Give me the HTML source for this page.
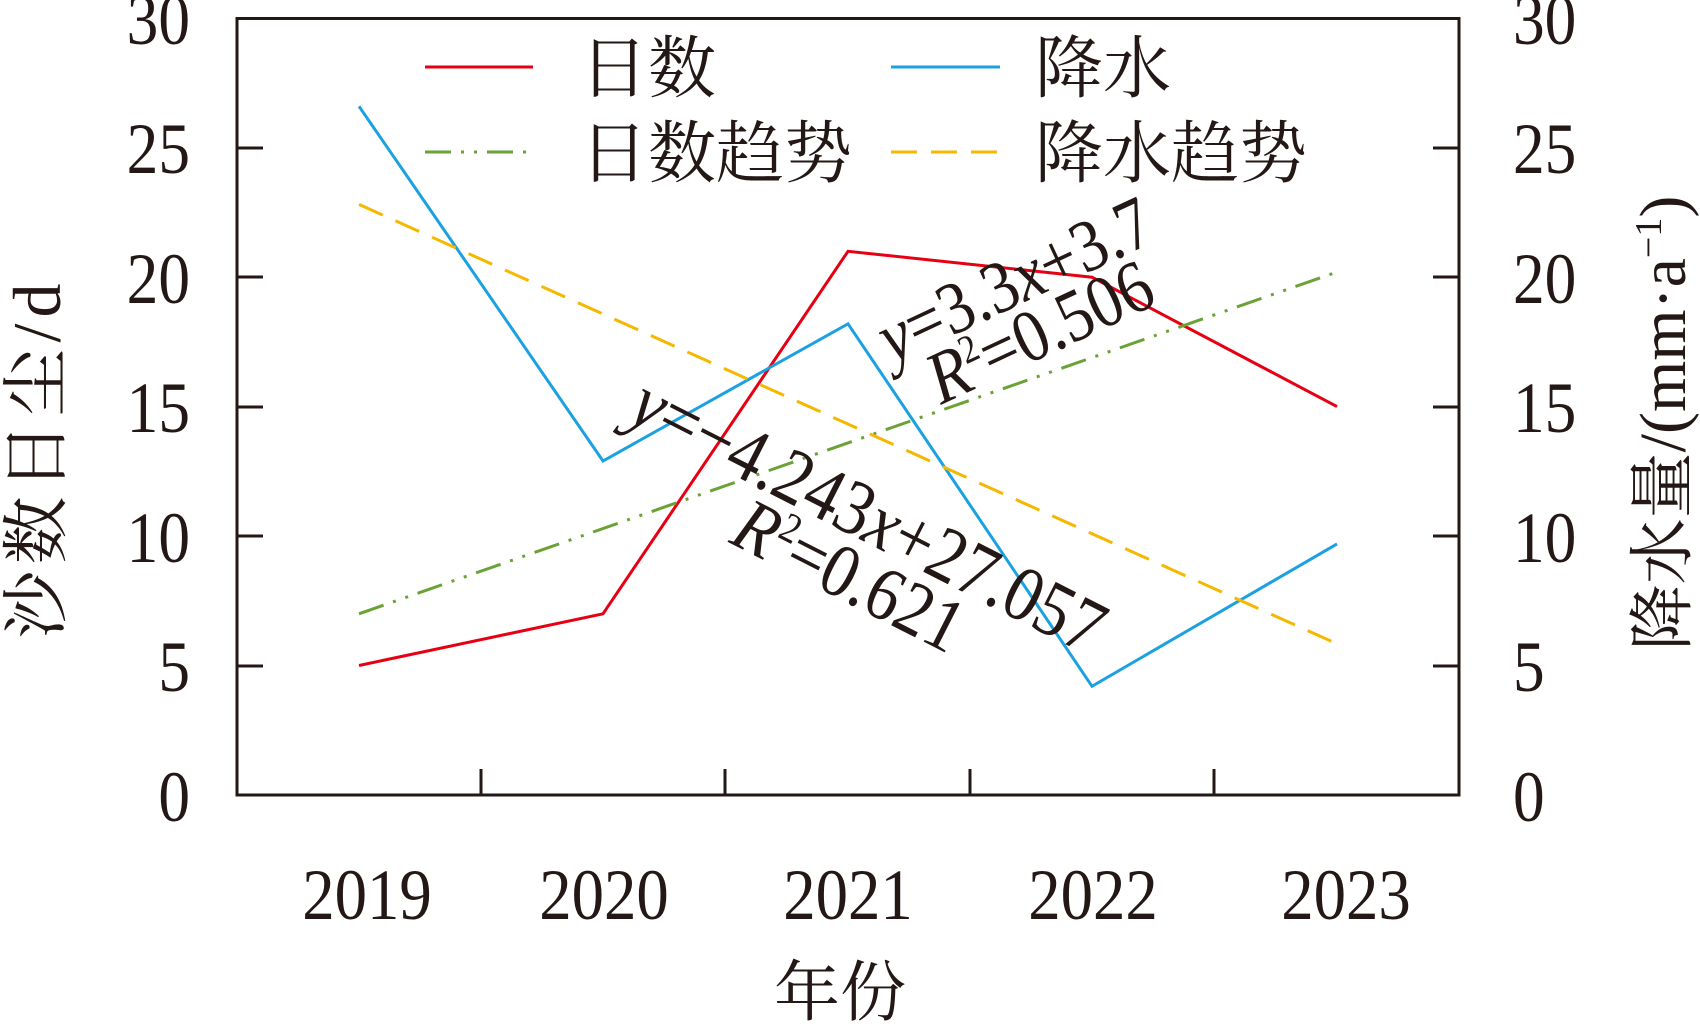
<!DOCTYPE html>
<html><head><meta charset="utf-8"><style>
html,body{margin:0;padding:0;background:#fff;}
svg{display:block;}
text{font-family:"Liberation Serif","Noto Serif CJK SC","Noto Sans CJK SC",serif;fill:#231815;}
</style></head><body>
<svg width="1700" height="1029" viewBox="0 0 1700 1029" xmlns="http://www.w3.org/2000/svg">
<rect width="1700" height="1029" fill="#fff"/>
<rect x="237" y="18.5" width="1222" height="776.5" fill="none" stroke="#231815" stroke-width="3"/>
<g stroke="#231815" stroke-width="3">
<line x1="237" y1="148" x2="263" y2="148"/><line x1="237" y1="277" x2="263" y2="277"/>
<line x1="237" y1="407" x2="263" y2="407"/><line x1="237" y1="536" x2="263" y2="536"/>
<line x1="237" y1="666" x2="263" y2="666"/>
<line x1="1433" y1="148" x2="1459" y2="148"/><line x1="1433" y1="277" x2="1459" y2="277"/>
<line x1="1433" y1="407" x2="1459" y2="407"/><line x1="1433" y1="536" x2="1459" y2="536"/>
<line x1="1433" y1="666" x2="1459" y2="666"/>
<line x1="481" y1="769" x2="481" y2="795"/><line x1="725" y1="769" x2="725" y2="795"/>
<line x1="970" y1="769" x2="970" y2="795"/><line x1="1214" y1="769" x2="1214" y2="795"/>
</g>
<g font-size="72" text-anchor="end">
<text transform="translate(190,44) scale(0.88,1)">30</text>
<text transform="translate(190,173) scale(0.88,1)">25</text>
<text transform="translate(190,303) scale(0.88,1)">20</text>
<text transform="translate(190,432) scale(0.88,1)">15</text>
<text transform="translate(190,562) scale(0.88,1)">10</text>
<text transform="translate(190,691) scale(0.88,1)">5</text>
<text transform="translate(190,821) scale(0.88,1)">0</text>
</g>
<g font-size="72" text-anchor="start">
<text transform="translate(1513,44) scale(0.88,1)">30</text>
<text transform="translate(1513,173) scale(0.88,1)">25</text>
<text transform="translate(1513,303) scale(0.88,1)">20</text>
<text transform="translate(1513,432) scale(0.88,1)">15</text>
<text transform="translate(1513,562) scale(0.88,1)">10</text>
<text transform="translate(1513,691) scale(0.88,1)">5</text>
<text transform="translate(1513,821) scale(0.88,1)">0</text>
</g>
<g font-size="72" text-anchor="middle">
<text transform="translate(367,919) scale(0.9,1)">2019</text>
<text transform="translate(604,919) scale(0.9,1)">2020</text>
<text transform="translate(848,919) scale(0.9,1)">2021</text>
<text transform="translate(1093,919) scale(0.9,1)">2022</text>
<text transform="translate(1346,919) scale(0.9,1)">2023</text>
</g>
<text x="840" y="1015" font-size="66" text-anchor="middle">年份</text>
<text transform="translate(60,458) rotate(-90)" font-size="68" letter-spacing="6" text-anchor="middle">沙数日尘/d</text>
<text transform="translate(1685,423) rotate(-90)" font-size="66" text-anchor="middle">降水量/(mm·a<tspan dy="-24" font-size="38">−1</tspan><tspan dy="24">)</tspan></text>
<polyline points="359,665.5 603,613.8 848,251.3 1092,277.2 1337,406.6" fill="none" stroke="#e60012" stroke-width="3"/>
<polyline points="359,106.3 603,461 848,323.8 1092,686.3 1337,543.9" fill="none" stroke="#1ba1e2" stroke-width="3"/>
<line x1="359" y1="613.8" x2="1337" y2="272" stroke="#6aa236" stroke-width="3" stroke-dasharray="26,10,3,10,3,10"/>
<line x1="359" y1="204.4" x2="1337" y2="643.8" stroke="#f5b800" stroke-width="3" stroke-dasharray="26,14"/>
<line x1="425" y1="67" x2="533" y2="67" stroke="#e60012" stroke-width="3"/>
<text x="580" y="92" font-size="68">日数</text>
<line x1="891" y1="67" x2="1000" y2="67" stroke="#1ba1e2" stroke-width="3"/>
<text x="1035" y="92" font-size="68">降水</text>
<line x1="425" y1="152" x2="533" y2="152" stroke="#6aa236" stroke-width="3" stroke-dasharray="26,10,3,10,3,10"/>
<text x="580" y="177" font-size="68">日数趋势</text>
<line x1="891" y1="152" x2="1000" y2="152" stroke="#f5b800" stroke-width="3" stroke-dasharray="26,14"/>
<text x="1035" y="177" font-size="68">降水趋势</text>
<g text-anchor="middle">
<text font-size="74" transform="translate(1025,302) rotate(-25) scale(0.88,1)"><tspan font-style="italic">y</tspan>=3.3<tspan font-style="italic">x</tspan>+3.7</text>
<text font-size="74" transform="translate(1050,354) rotate(-25) scale(0.88,1)"><tspan font-style="italic">R</tspan><tspan dy="-26" font-size="40">2</tspan><tspan dy="26">=0.506</tspan></text>
<text font-size="78" transform="translate(857,538) rotate(27) scale(0.88,1)"><tspan font-style="italic">y</tspan>=−4.243<tspan font-style="italic">x</tspan>+27.057</text>
<text font-size="76" transform="translate(838,598) rotate(27) scale(0.88,1)"><tspan font-style="italic">R</tspan><tspan dy="-27" font-size="42">2</tspan><tspan dy="27">=0.621</tspan></text>
</g>
</svg>
</body></html>
